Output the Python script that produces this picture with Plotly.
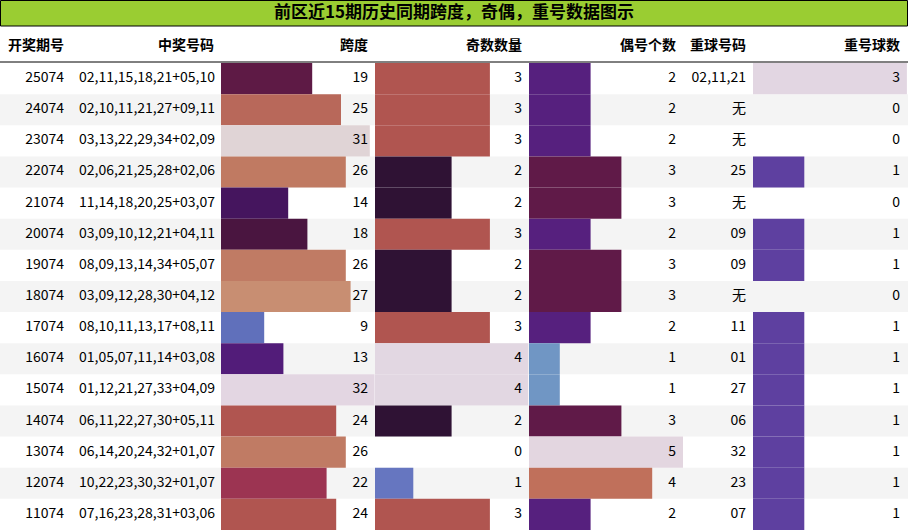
import plotly.graph_objects as go

issues = ["25074", "24074", "23074", "22074", "21074", "20074", "19074", "18074",
          "17074", "16074", "15074", "14074", "13074", "12074", "11074"]
numbers = ["02,11,15,18,21+05,10", "02,10,11,21,27+09,11", "03,13,22,29,34+02,09",
           "02,06,21,25,28+02,06", "11,14,18,20,25+03,07", "03,09,10,12,21+04,11",
           "08,09,13,14,34+05,07", "03,09,12,28,30+04,12", "08,10,11,13,17+08,11",
           "01,05,07,11,14+03,08", "01,12,21,27,33+04,09", "06,11,22,27,30+05,11",
           "06,14,20,24,32+01,07", "10,22,23,30,32+01,07", "07,16,23,28,31+03,06"]
span = [19, 25, 31, 26, 14, 18, 26, 27, 9, 13, 32, 24, 26, 22, 24]
odd = [3, 3, 3, 2, 2, 3, 2, 2, 3, 4, 4, 2, 0, 1, 3]
even = [2, 2, 2, 3, 3, 2, 3, 3, 2, 1, 1, 3, 5, 4, 2]
rep_nums = ["02,11,21", "无", "无", "25", "无", "09", "09", "无", "11", "01", "27", "06", "32", "23", "07"]
rep_cnt = [3, 0, 0, 1, 0, 1, 1, 0, 1, 1, 1, 1, 1, 1, 1]

span_colors = ["#5e1a45", "#b8685a", "#e0d4d6", "#c07a62", "#45155e", "#4a1540", "#c07b64",
               "#c88e72", "#6070bb", "#521c79", "#e3d6e2", "#b05550", "#c07b64", "#9c3452", "#b05550"]
odd_map = {0: "#ffffff", 1: "#6676c0", 2: "#2f1234", 3: "#b05550", 4: "#e2d7e2"}
even_map = {1: "#7096c4", 2: "#56207e", 3: "#601a48", 4: "#c0705b", 5: "#e3d6e0"}
rep_map = {0: "#ffffff", 1: "#5e40a0", 3: "#e2d6e2"}

W, H = 908, 530
top, row_h = 63, (530 - 63) / 15
ys = [top + row_h * (i + 0.5) for i in range(15)]
font = "Noto Sans CJK SC, sans-serif"

fig = go.Figure()
shapes = []
for i in range(15):
    if i % 2 == 1:
        shapes.append(dict(type="rect", xref="x", yref="y", x0=0, x1=W,
                           y0=top + row_h * i, y1=top + row_h * (i + 1),
                           fillcolor="#f4f4f4", line_width=0, layer="below"))
shapes.append(dict(type="rect", xref="x", yref="y", x0=0.5, x1=W - 0.5, y0=0.5, y1=26,
                   fillcolor="#9acd32", line=dict(color="black", width=1), layer="below"))
shapes.append(dict(type="line", xref="x", yref="y", x0=0, x1=W, y0=62, y1=62,
                   line=dict(color="black", width=1)))

# data bars: (start, px per unit, values, colors)
bars = [
    (221, 4.8, span, span_colors),
    (375, 38.3, odd, [odd_map[v] for v in odd]),
    (529, 30.8, even, [even_map[v] for v in even]),
    (753, 51.3, rep_cnt, [rep_map[v] for v in rep_cnt]),
]
for start, k, vals, cols in bars:
    fig.add_trace(go.Bar(orientation="h", y=ys, x=[v * k for v in vals], base=start,
                         width=row_h, marker=dict(color=cols, line_width=0),
                         hoverinfo="skip"))

cols_text = [(64, issues), (215, numbers), (368, span), (522, odd),
             (676, even), (746, rep_nums), (900, rep_cnt)]
for xr, vals in cols_text:
    fig.add_trace(go.Scatter(x=[xr] * 15, y=ys, mode="text", text=[str(v) for v in vals],
                             textposition="middle left",
                             textfont=dict(family=font, size=14, color="black"),
                             hoverinfo="skip"))

headers = ["开奖期号", "中奖号码", "跨度", "奇数数量", "偶号个数", "重球号码", "重号球数"]
hx = [64, 214, 368, 522, 676, 746, 900]
fig.add_trace(go.Scatter(x=hx, y=[46] * 7, mode="text", text=[f"<b>{h}</b>" for h in headers],
                         textposition="middle left",
                         textfont=dict(family=font, size=14, color="black"), hoverinfo="skip"))
fig.add_trace(go.Scatter(x=[W / 2], y=[14], mode="text", text=["<b>前区近15期历史同期跨度，奇偶，重号数据图示</b>"],
                         textposition="middle center",
                         textfont=dict(family=font, size=17, color="black"), hoverinfo="skip"))

fig.update_layout(width=W, height=H, margin=dict(l=0, r=0, t=0, b=0),
                  plot_bgcolor="white", paper_bgcolor="white", showlegend=False,
                  barmode="overlay", shapes=shapes,
                  xaxis=dict(range=[0, W], visible=False, fixedrange=True),
                  yaxis=dict(range=[H, 0], visible=False, fixedrange=True))
fig.write_html("out.html", config={"displayModeBar": False},
               post_script="document.body.style.margin='0';document.body.style.overflow='hidden';")
